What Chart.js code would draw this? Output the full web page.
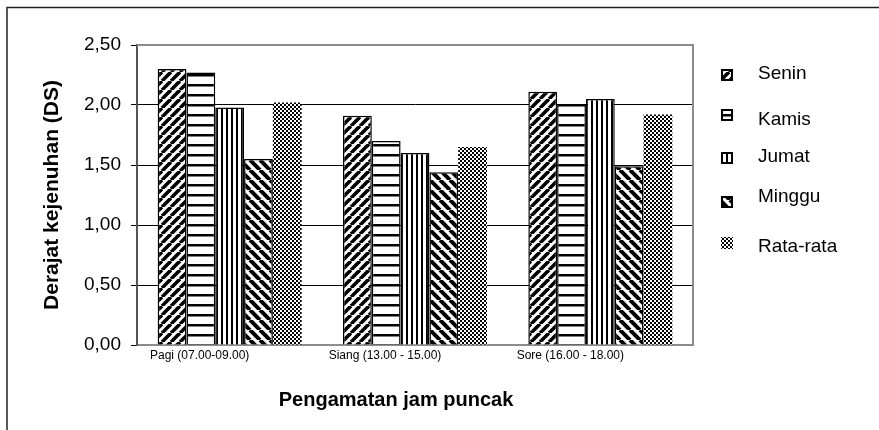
<!DOCTYPE html>
<html>
<head>
<meta charset="utf-8">
<script src="https://cdn.jsdelivr.net/npm/chart.js@4/dist/chart.umd.min.js"></script>
<style>
  html, body { margin: 0; padding: 0; background: #fff; }
  #wrap { width: 879px; height: 430px; }
</style>
</head>
<body>
<div id="wrap"><canvas id="c" width="879" height="430"></canvas></div>
<script>
// Observation periods (peak hours)
const categories = ['Pagi (07.00-09.00)', 'Siang (13.00 - 15.00)', 'Sore (16.00 - 18.00)'];

// Degree of saturation (DS) per day
const senin    = [2.30, 1.91, 2.11];
const kamis    = [2.27, 1.70, 2.00];
const jumat    = [1.98, 1.60, 2.05];
const minggu   = [1.55, 1.44, 1.49];
const rataRata = [2.02, 1.65, 1.92];

const seriesNames = ['Senin', 'Kamis', 'Jumat', 'Minggu', 'Rata-rata'];
const yTicks = [0, 0.5, 1.0, 1.5, 2.0, 2.5];

const FONT = "'Liberation Sans', Arial, sans-serif";
const canvas = document.getElementById('c');
const ctx = canvas.getContext('2d');

// Monochrome hatch fills
function makePattern(w, h, draw) {
  const c = document.createElement('canvas');
  c.width = w; c.height = h;
  const g = c.getContext('2d');
  g.fillStyle = '#fff';
  g.fillRect(0, 0, w, h);
  g.fillStyle = '#000';
  g.strokeStyle = '#000';
  draw(g, w, h);
  return ctx.createPattern(c, 'repeat');
}

const patSlash = makePattern(9, 9, (g, w, h) => {
  g.lineWidth = 3.6;
  for (const o of [-w, 0, w]) {
    g.beginPath(); g.moveTo(o, h); g.lineTo(o + w, 0); g.stroke();
  }
});
const patHoriz = makePattern(10, 10, (g, w) => {
  g.fillRect(0, 4, w, 2.5);
});
const patVert = makePattern(5, 5, (g, w, h) => {
  g.fillRect(1, 0, 2, h);
});
const patBack = makePattern(10, 10, (g, w, h) => {
  g.lineWidth = 4;
  for (const o of [-w, 0, w]) {
    g.beginPath(); g.moveTo(o, 0); g.lineTo(o + w, h); g.stroke();
  }
});
const patCheck = makePattern(4, 4, (g) => {
  g.fillRect(0, 0, 2, 2);
  g.fillRect(2, 2, 2, 2);
});

const fills = [patSlash, patHoriz, patVert, patBack, patCheck];
const borders = [1.5, 1.5, 1.5, 1.5, 0];
const values = [senin, kamis, jumat, minggu, rataRata];

const datasets = seriesNames.map((name, i) => ({
  label: name,
  data: values[i],
  backgroundColor: fills[i],
  borderColor: '#000',
  borderWidth: borders[i],
  borderSkipped: 'bottom',
  barPercentage: 1.0,
  categoryPercentage: 0.777
}));

// White page, outer frame and plot frame
const framePlugin = {
  id: 'frame',
  beforeDraw(chart) {
    const g = chart.ctx;
    g.save();
    g.fillStyle = '#fff';
    g.fillRect(0, 0, chart.width, chart.height);
    g.strokeStyle = '#222';
    g.lineWidth = 1.5;
    g.beginPath();
    g.moveTo(7, chart.height); g.lineTo(7, 7.5); g.lineTo(chart.width, 7.5);
    g.stroke();
    g.restore();
  },
  beforeDatasetsDraw(chart) {
    const a = chart.chartArea;
    const g = chart.ctx;
    g.save();
    g.strokeStyle = '#8c8c8c';
    g.lineWidth = 2;
    g.beginPath();
    g.moveTo(a.left, a.top); g.lineTo(a.right, a.top); g.lineTo(a.right, a.bottom);
    g.stroke();
    g.restore();
  }
};

// Legend on the right plus the horizontal axis title
const legendPlugin = {
  id: 'sideLegend',
  afterDraw(chart) {
    const g = chart.ctx;
    const swatchY = [75, 115, 158, 202, 243];
    const textY = [74, 120, 157, 197, 247];
    g.save();
    chart.data.datasets.forEach((ds, i) => {
      const x = 721, s = 12, y = swatchY[i] - s / 2;
      g.fillStyle = ds.backgroundColor;
      g.fillRect(x, y, s, s);
      if (ds.borderWidth > 0) {
        g.strokeStyle = '#000';
        g.lineWidth = 2;
        g.strokeRect(x + 1, y + 1, s - 2, s - 2);
      }
      g.fillStyle = '#000';
      g.font = '19px ' + FONT;
      g.textAlign = 'left';
      g.textBaseline = 'middle';
      g.fillText(ds.label, 758, textY[i]);
    });
    g.font = 'bold 20px ' + FONT;
    g.textAlign = 'center';
    g.textBaseline = 'middle';
    g.fillText('Pengamatan jam puncak', 396, 400);
    g.restore();
  }
};

new Chart(canvas, {
  type: 'bar',
  data: { labels: categories, datasets },
  options: {
    responsive: false,
    animation: false,
    devicePixelRatio: 1,
    layout: { padding: { left: 36, top: 45, right: 186, bottom: 0 } },
    plugins: { legend: { display: false }, tooltip: { enabled: false } },
    scales: {
      x: {
        grid: { display: false, drawTicks: false },
        border: { display: true, color: '#8c8c8c', width: 2 },
        ticks: {
          color: '#000',
          font: { family: FONT, size: 12 },
          padding: 3,
          maxRotation: 0,
          autoSkip: false,
          labelOffset: -30
        },
        afterFit(s) { s.height = 85; }
      },
      y: {
        min: 0,
        max: 2.5,
        afterBuildTicks(s) { s.ticks = yTicks.map(v => ({ value: v })); },
        ticks: {
          color: '#000',
          font: { family: FONT, size: 19 },
          padding: 10,
          callback: v => Number(v).toFixed(2).replace('.', ',')
        },
        grid: {
          color: c => (c.tick && (c.tick.value === 0 || c.tick.value === 2.5)) ? 'rgba(0,0,0,0)' : '#000',
          tickColor: '#000',
          tickLength: 6,
          lineWidth: 1
        },
        border: { color: '#555', width: 2 },
        title: {
          display: true,
          text: 'Derajat kejenuhan (DS)',
          color: '#000',
          font: { family: FONT, size: 21, weight: 'bold' },
          padding: { top: 4, bottom: 4 }
        },
        afterFit(s) { s.width = 101; }
      }
    }
  },
  plugins: [framePlugin, legendPlugin]
});
</script>
</body>
</html>
